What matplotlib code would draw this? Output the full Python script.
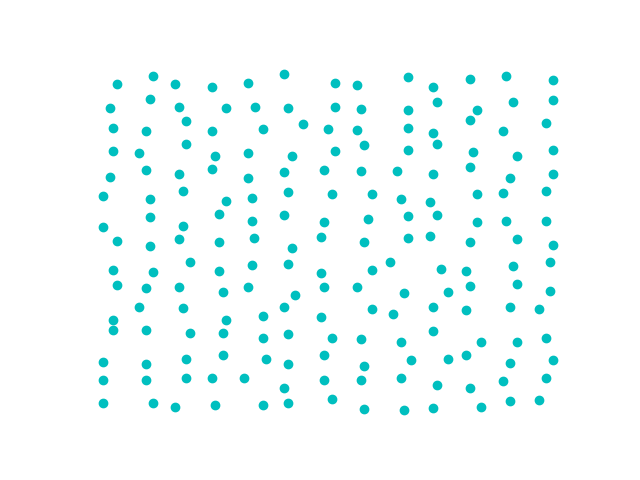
import matplotlib
matplotlib.use("Agg")
import matplotlib.pyplot as plt

xs = [117, 153, 175, 212, 248, 284, 335, 357, 408, 433, 470, 506, 553,
      110, 150, 179, 226, 255, 288, 335, 361, 408, 437, 477, 513, 553,
      113, 146, 186, 212, 263, 303, 328, 357, 408, 433, 470, 503, 546,
      113, 139, 186, 215, 248, 292, 335, 364, 408, 437, 473, 517, 553,
      110, 146, 179, 212, 248, 284, 324, 361, 397, 433, 470, 510, 553,
      103, 150, 183, 226, 252, 288, 332, 372, 401, 430, 477, 503, 546,
      150, 219, 252, 284, 324, 368, 408, 437, 477, 506, 546, 103, 183,
      117, 150, 179, 219, 254, 292, 321, 364, 408, 430, 470, 517, 553,
      113, 153, 190, 219, 252, 288, 321, 372, 390, 441, 466, 513, 550,
      117, 146, 179, 223, 248, 295, 324, 357, 404, 448, 470, 517, 550,
      139, 183, 226, 263, 284, 321, 372, 393, 433, 466, 510, 539, 113, 113, 146,
      190, 223, 263, 288, 332, 361, 401, 433, 481, 517, 546,
      103, 146, 186, 223, 266, 288, 324, 364, 411, 448, 466, 510, 553,
      103, 146, 186, 212, 244, 284, 324, 361, 401, 437, 470, 503, 546,
      103, 153, 175, 215, 263, 288, 332, 364, 404, 433, 481, 510, 539]
ys_top = [84, 76, 84, 87, 83, 74, 83, 85, 77, 87, 79, 76, 80,
          108, 99, 107, 108, 107, 108, 107, 109, 110, 102, 110, 102, 100,
          128, 131, 121, 131, 129, 124, 129, 130, 128, 133, 120, 131, 123,
          151, 153, 144, 156, 153, 156, 151, 145, 150, 144, 152, 156, 150,
          177, 170, 174, 169, 178, 172, 170, 171, 171, 174, 167, 178, 174,
          196, 199, 191, 201, 198, 192, 194, 194, 199, 202, 194, 193, 191,
          217, 214, 221, 215, 222, 219, 216, 215, 222, 221, 221, 227, 226,
          241, 246, 239, 242, 238, 248, 237, 242, 238, 236, 242, 239, 245,
          270, 272, 262, 271, 265, 264, 273, 270, 262, 269, 271, 266, 262,
          285, 288, 287, 292, 287, 295, 287, 287, 293, 292, 286, 284, 291,
          307, 308, 320, 316, 307, 317, 309, 314, 307, 310, 307, 309, 320, 330, 330,
          333, 333, 338, 334, 338, 339, 342, 331, 342, 342, 338,
          362, 364, 359, 355, 359, 364, 355, 366, 360, 359, 355, 363, 360,
          380, 380, 378, 378, 378, 388, 380, 380, 378, 385, 388, 381, 378,
          403, 403, 407, 405, 405, 403, 399, 409, 410, 408, 407, 401, 400]

W, H = 640, 480
ys = [H - v for v in ys_top]

fig, ax = plt.subplots(figsize=(6.4, 4.8), dpi=100)
ax.scatter(xs, ys, color="c")
ax.set_xlim(0.125 * W, 0.9 * W)
ax.set_ylim(0.11 * H, 0.88 * H)
ax.axis("off")
fig.savefig("out.png")
